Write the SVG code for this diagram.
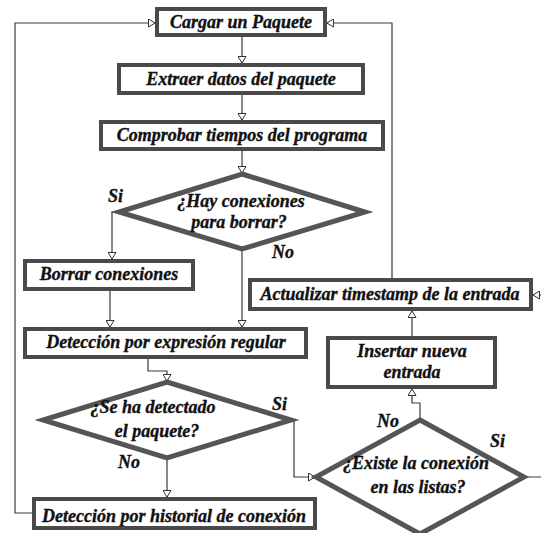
<svg xmlns="http://www.w3.org/2000/svg" width="541" height="533" viewBox="0 0 541 533">
<defs>
<style>
.box{fill:#fff;stroke:#4a4a4a;stroke-width:4}
.dia{fill:#fff;stroke:#555;stroke-width:5;stroke-linejoin:miter}
.t{font-family:"Liberation Serif","Times New Roman",serif;font-weight:bold;font-style:italic;font-size:18px;fill:#111;stroke:#111;stroke-width:0.35}
.m{text-anchor:middle}
.c{fill:none;stroke:#3a3a3a;stroke-width:1.2}
</style>
<marker id="ah" markerUnits="userSpaceOnUse" markerWidth="8" markerHeight="9" refX="7" refY="4.5" orient="auto">
<path d="M0.5,0.5 L7,4.5 L0.5,8.5 z" fill="#fff" stroke="#333" stroke-width="1"/>
</marker>
</defs>
<rect width="541" height="533" fill="#fff"/>
<g id="connectors">
<path class="c" d="M242,37 V63" marker-end="url(#ah)"/>
<path class="c" d="M242,95 V120" marker-end="url(#ah)"/>
<path class="c" d="M242,151 V173" marker-end="url(#ah)"/>
<path class="c" d="M118,212 H112 V259" marker-end="url(#ah)"/>
<path class="c" d="M242,250 V327" marker-end="url(#ah)"/>
<path class="c" d="M110,291 V327" marker-end="url(#ah)"/>
<path class="c" d="M148,359 V371 H167 V381" marker-end="url(#ah)"/>
<path class="c" d="M292,420 H294 V477 H315" marker-end="url(#ah)"/>
<path class="c" d="M167,459 V497" marker-end="url(#ah)"/>
<path class="c" d="M32,513 H15 V23 H155" marker-end="url(#ah)"/>
<path class="c" d="M420,419 V403 H412 V389" marker-end="url(#ah)"/>
<path class="c" d="M412,336 V311" marker-end="url(#ah)"/>
<path class="c" d="M392,278 V23 H327" marker-end="url(#ah)"/>
<path class="c" d="M525,477 H548 V295 H533" marker-end="url(#ah)"/>
</g>
<g id="cargar">
<rect class="box" x="157" y="9" width="168" height="26"/>
<text class="t m" x="241" y="28">Cargar un Paquete</text>
</g>
<g id="extraer">
<rect class="box" x="119" y="65" width="244" height="28"/>
<text class="t m" x="241" y="85">Extraer datos del paquete</text>
</g>
<g id="comprobar">
<rect class="box" x="101" y="122" width="282" height="27"/>
<text class="t m" x="242" y="141">Comprobar tiempos del programa</text>
</g>
<g id="hay-conexiones">
<polygon class="dia" points="242,174 365,212 242,249 119,212"/>
<text class="t m" x="241" y="207">¿Hay conexiones</text>
<text class="t m" x="239" y="228">para borrar?</text>
</g>
<g id="borrar">
<rect class="box" x="25" y="261" width="168" height="28"/>
<text class="t m" x="109" y="280">Borrar conexiones</text>
</g>
<g id="regex">
<rect class="box" x="25" y="329" width="281" height="28"/>
<text class="t m" x="166" y="348">Detección por expresión regular</text>
</g>
<g id="se-ha-detectado">
<polygon class="dia" points="167,382 291,420 167,458 43,420"/>
<text class="t m" x="153" y="413">¿Se ha detectado</text>
<text class="t m" x="157" y="437">el paquete?</text>
</g>
<g id="historial">
<rect class="box" x="34" y="499" width="281" height="29"/>
<text class="t m" x="174" y="522">Detección por historial de conexión</text>
</g>
<g id="actualizar">
<rect class="box" x="250" y="280" width="281" height="29"/>
<text class="t m" x="390" y="300">Actualizar timestamp de la entrada</text>
</g>
<g id="insertar">
<rect class="box" x="328" y="338" width="167" height="49"/>
<text class="t m" x="412" y="357">Insertar nueva</text>
<text class="t m" x="412" y="378">entrada</text>
</g>
<g id="existe">
<polygon class="dia" points="420,420 524,477 420,534 316,477"/>
<text class="t m" x="416" y="469">¿Existe la conexión</text>
<text class="t m" x="418" y="493">en las listas?</text>
</g>
<g id="labels">
<text class="t" x="108" y="202">Si</text>
<text class="t" x="272" y="258">No</text>
<text class="t" x="272" y="410">Si</text>
<text class="t" x="118" y="468">No</text>
<text class="t" x="377" y="427">No</text>
<text class="t" x="490" y="447">Si</text>
</g>
</svg>
